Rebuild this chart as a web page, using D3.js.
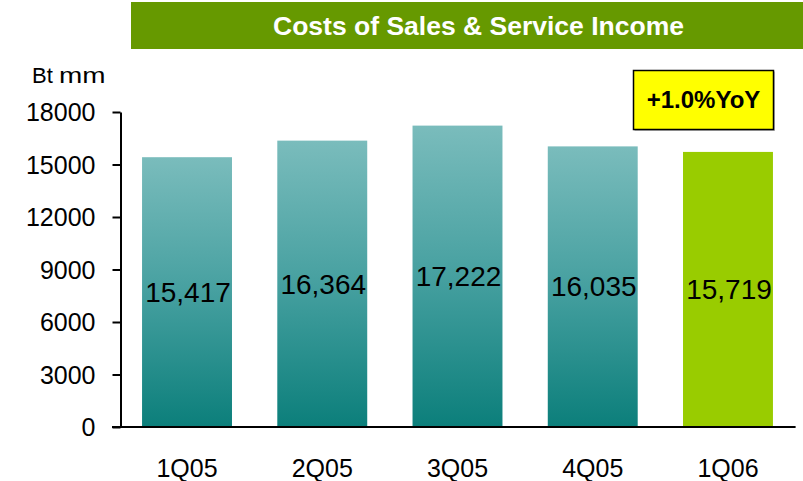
<!DOCTYPE html>
<html>
<head>
<meta charset="utf-8">
<script src="https://cdn.jsdelivr.net/npm/d3@7"></script>
<style>
  html, body { margin: 0; padding: 0; background: #fff; }
  svg { display: block; font-family: "Liberation Sans", Arial, sans-serif; }
</style>
</head>
<body>
<svg id="chart" width="803" height="481"></svg>
<script>
// Quarterly costs of sales & service income, Bt mm
const quarters = ["1Q05", "2Q05", "3Q05", "4Q05", "1Q06"];
const costs = [15417, 16364, 17222, 16035, 15719];
const yTicks = [0, 3000, 6000, 9000, 12000, 15000, 18000];
const titleText = "Costs of Sales & Service Income";
const unitText = ["Bt", "mm"];
const badgeText = "+1.0%YoY";

const svg = d3.select("#chart");

// Gradient for the historical quarters (light teal at top to dark teal at base)
const defs = svg.append("defs");
const grad = defs.append("linearGradient")
  .attr("id", "tealFade")
  .attr("x1", 0).attr("y1", 0).attr("x2", 0).attr("y2", 1);
grad.append("stop").attr("offset", "0%").attr("stop-color", "#7abcbc");
grad.append("stop").attr("offset", "50%").attr("stop-color", "#46a0a0");
grad.append("stop").attr("offset", "100%").attr("stop-color", "#0c7f7b");

// Title banner
svg.append("rect")
  .attr("x", 131).attr("y", 2).attr("width", 672).attr("height", 47)
  .attr("fill", "#669900");
svg.append("text")
  .attr("x", 478.5).attr("y", 35)
  .attr("text-anchor", "middle")
  .attr("fill", "#fff")
  .attr("font-weight", "bold")
  .attr("font-size", 26.5)
  .text(titleText);

// Scales
const x = d3.scaleBand()
  .domain(quarters)
  .range([119.4, 795.6])
  .paddingInner(0.335)
  .paddingOuter(0.1675);

const y = d3.scaleLinear()
  .domain([0, 18000])
  .range([427, 112]);

// Unit label (the "mm" is set slightly wider)
svg.append("text")
  .attr("x", 32).attr("y", 83)
  .attr("font-size", 22)
  .attr("fill", "#000")
  .text(unitText[0]);
svg.append("text")
  .attr("transform", "translate(59,83) scale(1.27,1)")
  .attr("font-size", 22)
  .attr("fill", "#000")
  .text(unitText[1]);

// Bars
svg.append("g")
  .selectAll("rect")
  .data(costs)
  .join("rect")
  .attr("x", (d, i) => x(quarters[i]))
  .attr("y", d => y(d))
  .attr("width", x.bandwidth())
  .attr("height", d => y(0) - y(d) - 1)
  .attr("fill", (d, i) => i === costs.length - 1 ? "#99cc00" : "url(#tealFade)");

// Value labels centred inside each bar
svg.append("g")
  .selectAll("text")
  .data(costs)
  .join("text")
  .attr("x", (d, i) => x(quarters[i]) + x.bandwidth() / 2 + 1)
  .attr("y", d => (y(d) + y(0)) / 2)
  .attr("dy", "0.35em")
  .attr("text-anchor", "middle")
  .attr("font-size", 28)
  .attr("fill", "#000")
  .text(d => d3.format(",")(d));

// Y axis
const yAxis = svg.append("g")
  .attr("transform", "translate(120.5,0)")
  .call(d3.axisLeft(y).tickValues(yTicks).tickFormat(d3.format("d"))
    .tickSizeInner(8).tickSizeOuter(0).tickPadding(17));
yAxis.select(".domain").attr("stroke", "#000").attr("stroke-width", 2);
yAxis.selectAll(".tick line").attr("stroke", "#000").attr("stroke-width", 2);
yAxis.selectAll(".tick text")
  .attr("font-size", 25)
  .attr("font-family", "'Liberation Sans', Arial, sans-serif")
  .attr("fill", "#000")
  .attr("dy", "0.34em");

// X axis baseline and category labels
const xAxis = svg.append("g")
  .attr("transform", "translate(0,427)")
  .call(d3.axisBottom(x).tickSize(0).tickPadding(50));
xAxis.select(".domain").remove();
xAxis.append("line")
  .attr("x1", 112).attr("x2", 795.6)
  .attr("y1", 0).attr("y2", 0)
  .attr("stroke", "#000").attr("stroke-width", 2);
xAxis.selectAll(".tick text")
  .attr("font-size", 25)
  .attr("font-family", "'Liberation Sans', Arial, sans-serif")
  .attr("fill", "#000")
  .attr("y", 50)
  .attr("dy", 0);

// Year-on-year badge
svg.append("rect")
  .attr("x", 634.5).attr("y", 71.5).attr("width", 140.5).attr("height", 59.5)
  .attr("fill", "#b8b8b8");
svg.append("rect")
  .attr("x", 633.5).attr("y", 70.5).attr("width", 140).attr("height", 59)
  .attr("fill", "#ffff00")
  .attr("stroke", "#000").attr("stroke-width", 1.5);
svg.append("text")
  .attr("x", 703.5).attr("y", 100)
  .attr("dy", "0.35em")
  .attr("text-anchor", "middle")
  .attr("font-weight", "bold")
  .attr("font-size", 24)
  .attr("fill", "#000")
  .text(badgeText);
</script>
</body>
</html>
